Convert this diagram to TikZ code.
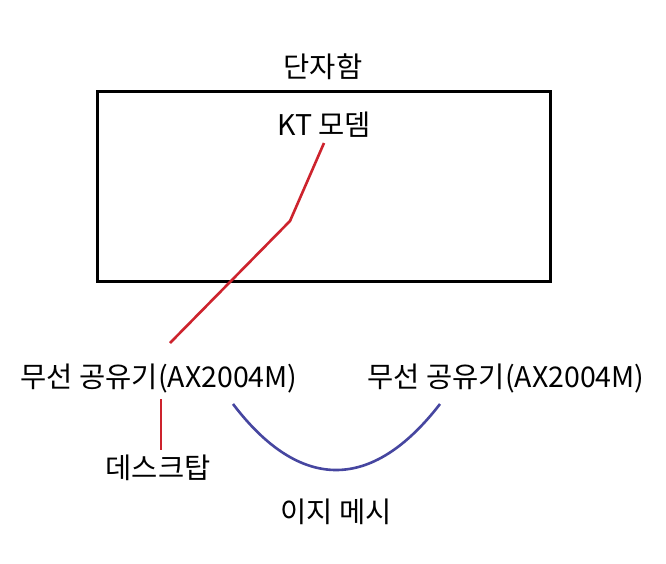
\documentclass[tikz,border=0pt]{standalone}
\usepackage{fontspec}
\setmainfont{Noto Sans CJK KR}
\begin{document}
\begin{tikzpicture}[x=1pt,y=-1pt,
  lbl/.style={inner sep=0pt, font=\fontsize{28.5}{32}\selectfont},
  redline/.style={draw={rgb,255:red,205;green,35;blue,45}, line width=2.6pt},
  blueline/.style={draw={rgb,255:red,70;green,70;blue,160}, line width=2.6pt}]
\useasboundingbox (0,0) rectangle (666,563);
\fill[white] (0,0) rectangle (666,563);
\node[draw, line width=3pt, minimum width=453pt, minimum height=190pt, inner sep=0pt] (box) at (323.5,186) {};
\node[lbl] (title) at (323,67) {단자함};
\node[lbl] (kt) at (324,125) {KT 모뎀};
\node[lbl] (r1) at (159,378) {무선 공유기(AX2004M)};
\node[lbl] (r2) at (506,378) {무선 공유기(AX2004M)};
\node[lbl] (desk) at (158,468) {데스크탑};
\node[lbl] (mesh) at (336,512) {이지 메시};
\coordinate (ktend) at (324,143);
\coordinate (bend) at (290,221);
\coordinate (r1top) at (170,343);
\coordinate (r1bot) at (161,399);
\coordinate (desktop) at (161,450);
\coordinate (m1) at (233,404);
\coordinate (m2) at (440,404);
\draw[redline] (ktend) -- (bend) -- (r1top);
\draw[redline] (r1bot) -- (desktop);
\draw[blueline] (m1) .. controls (300,492) and (372,492) .. (m2);
\end{tikzpicture}
\end{document}
